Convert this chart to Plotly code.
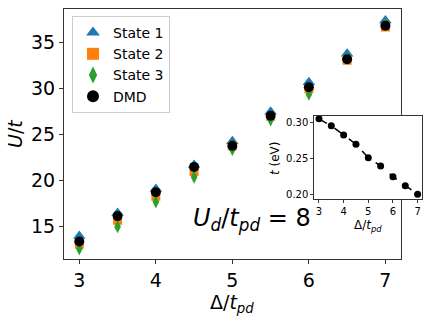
import plotly.graph_objects as go

delta = [3, 3.5, 4, 4.5, 5, 5.5, 6, 6.5, 7]
state1 = [14.0, 16.5, 19.1, 21.7, 24.3, 27.5, 30.7, 33.8, 37.4]
state2 = [13.1, 15.7, 18.3, 21.0, 23.8, 27.0, 30.0, 33.1, 36.7]
state3 = [12.6, 15.0, 17.7, 20.4, 23.4, 26.6, 29.4, 33.3, 37.0]
dmd = [13.4, 16.15, 18.75, 21.5, 23.8, 27.05, 30.15, 33.2, 36.85]
t_ev = [0.3046, 0.2949, 0.2824, 0.2695, 0.2508, 0.2393, 0.2245, 0.212, 0.200]

FONT = "DejaVu Sans"
AX = "#333333"
W, H = 432, 321

fig = go.Figure()
fig.add_trace(go.Scatter(x=delta, y=state1, mode="markers", name="State 1",
                         marker=dict(symbol="triangle-up", size=11, color="#1f77b4")))
fig.add_trace(go.Scatter(x=delta, y=state2, mode="markers", name="State 2",
                         marker=dict(symbol="square", size=9, color="#ff7f0e")))
fig.add_trace(go.Scatter(x=delta, y=state3, mode="markers", name="State 3",
                         marker=dict(symbol="diamond-tall", size=9.5, color="#2ca02c")))
fig.add_trace(go.Scatter(x=delta, y=dmd, mode="markers", name="DMD",
                         marker=dict(symbol="circle", size=10, color="black")))
fig.add_trace(go.Scatter(x=delta, y=t_ev, mode="lines+markers", showlegend=False,
                         xaxis="x2", yaxis="y2",
                         line=dict(color="black", dash="dash", width=1.5),
                         marker=dict(symbol="circle", size=7, color="black")))

axcommon = dict(showline=True, linecolor=AX, linewidth=1, mirror=True,
                ticks="outside", tickcolor=AX, tickwidth=1, showgrid=False,
                zeroline=False)

fig.update_layout(
    width=W, height=H,
    margin=dict(l=0, r=0, t=0, b=0),
    paper_bgcolor="white", plot_bgcolor="white",
    font=dict(family=FONT, color="black"),
    xaxis=dict(domain=[64 / W, 400.7 / W], range=[2.8, 7.2],
               tickvals=[3, 4, 5, 6, 7], ticklen=4,
               tickfont=dict(size=19), **axcommon),
    yaxis=dict(domain=[1 - 259 / H, 1 - 9 / H], range=[11.49, 38.66],
               tickvals=[15, 20, 25, 30, 35], ticklen=4,
               tickfont=dict(size=19), **axcommon),
    xaxis2=dict(domain=[314.3 / W, 422.3 / W], range=[2.81, 7.19], anchor="y2",
                tickvals=[3, 4, 5, 6, 7], ticklen=3,
                tickfont=dict(size=10), **axcommon),
    yaxis2=dict(domain=[1 - 199 / H, 1 - 115.7 / H], range=[0.1935, 0.309], anchor="x2",
                tickvals=[0.20, 0.25, 0.30], ticktext=["0.20", "0.25", "0.30"], ticklen=3,
                tickfont=dict(size=10), **axcommon),
    legend=dict(x=72 / W, y=1 - 16 / H, xanchor="left", yanchor="top",
                bgcolor="rgba(255,255,255,0.8)", bordercolor="#cccccc", borderwidth=1,
                font=dict(size=14, family=FONT), itemsizing="constant",
                tracegroupgap=0),
    showlegend=True,
)

fig.add_shape(type="rect", xref="x2 domain", yref="y2 domain", x0=0, x1=1, y0=0, y1=1,
              fillcolor="white", line=dict(width=0), layer="below")

ann = [
    dict(text="<i>U</i>/<i>t</i>", x=15 / W, y=1 - 134 / H, textangle=-90, size=19),
    dict(text="Δ/<i>t</i><sub><i>pd</i></sub>", x=232.3 / W, y=1 - 303 / H, size=19),
    dict(text="<i>U</i><sub><i>d</i></sub>/<i>t</i><sub><i>pd</i></sub> = 8",
         x=252 / W, y=1 - 219 / H, size=24),
    dict(text="Δ/<i>t</i><sub><i>pd</i></sub>", x=368 / W, y=1 - 226 / H, size=12),
    dict(text="<i>t</i> (eV)", x=275 / W, y=1 - 158 / H, textangle=-90, size=12),
]
for a in ann:
    fig.add_annotation(text=a["text"], x=a["x"], y=a["y"], xref="paper", yref="paper",
                       xanchor="center", yanchor="middle", showarrow=False,
                       textangle=a.get("textangle", 0),
                       font=dict(size=a["size"], family=FONT, color="black"))

fig.write_html("out.html", config={"displayModeBar": False},
               post_script="document.body.style.margin='0px';document.body.style.overflow='hidden';")
